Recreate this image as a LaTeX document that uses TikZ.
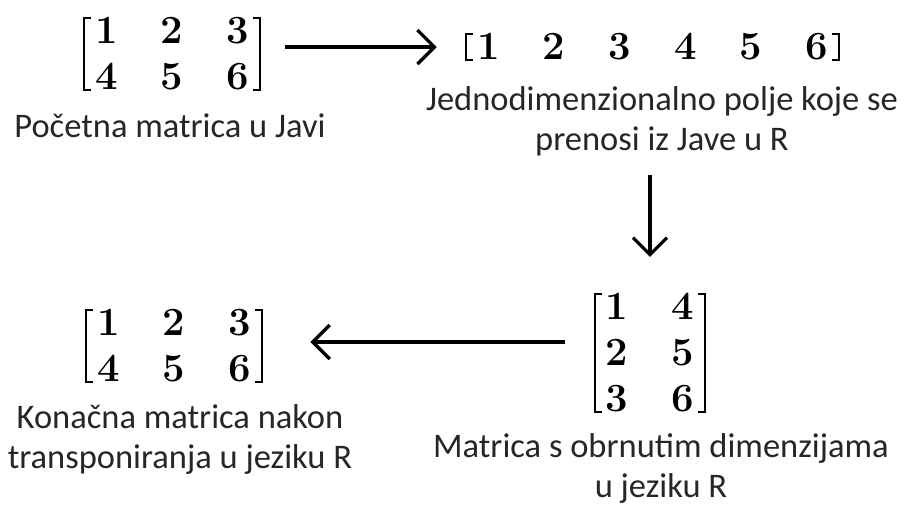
\documentclass[tikz,border=0pt]{standalone}
\usepackage{fontspec}
\setsansfont{Carlito}
\usetikzlibrary{matrix,arrows.meta}

% square brackets drawn on the left and right edges of a matrix node
\newcommand\matbrackets[1]{%
  \draw[brk] ([xshift=7pt]#1.north west) -- (#1.north west) -- (#1.south west) -- ([xshift=7pt]#1.south west);
  \draw[brk] ([xshift=-7pt]#1.north east) -- (#1.north east) -- (#1.south east) -- ([xshift=-7pt]#1.south east);
}

\tikzset{
  mat/.style={matrix of nodes, inner xsep=11pt, inner ysep=0pt,
    column sep=43pt, row sep=20.2pt,
    nodes={font=\fontsize{40}{40}\selectfont\bfseries, inner sep=0pt,
      text height=25.8pt, text depth=0pt, anchor=center}},
  % base anchor of a caption sits on the baseline of its last line
  caption/.style={font=\sffamily\fontsize{34.5}{40}\selectfont, text=black!85,
    align=center, inner sep=0pt, anchor=base},
  brk/.style={line width=2.4pt, line join=miter},
  arr/.style={line width=3.2pt, -{Straight Barb[length=17pt,width=34pt]}},
}

\begin{document}
\begin{tikzpicture}[x=1pt,y=-1pt]
  \useasboundingbox (0,0) rectangle (907,507);

  % initial matrix
  \matrix (m1) [mat] at (172,54) { 1 & 2 & 3 \\ 4 & 5 & 6 \\ };
  \matbrackets{m1}
  \node[caption] (c1) at (170,137) {Početna matrica u Javi};

  % flattened array
  \matrix (v) [mat] at (652.5,47) { 1 & 2 & 3 & 4 & 5 & 6 \\ };
  \matbrackets{v}
  \node[caption] (c2) at (662,150) {Jednodimenzionalno polje koje se\\prenosi iz Jave u R};

  % matrix with swapped dimensions
  \matrix (m3) [mat] at (650,353) { 1 & 4 \\ 2 & 5 \\ 3 & 6 \\ };
  \matbrackets{m3}
  \node[caption] (c3) at (661,497) {Matrica s obrnutim dimenzijama\\u jeziku R};

  % final matrix
  \matrix (m4) [mat] at (174,346) { 1 & 2 & 3 \\ 4 & 5 & 6 \\ };
  \matbrackets{m4}
  \node[caption] (c4) at (180,468) {Konačna matrica nakon\\transponiranja u jeziku R};

  % connectors
  \draw[arr, shorten <=25pt, shorten >=29.5pt] (v.west -| m1.east) -- (v.west);
  \draw[arr, shorten <=19pt, shorten >=37pt] (c2.south -| m3.north) -- (m3.north);
  \draw[arr, shorten <=29.5pt, shorten >=48.5pt] ([yshift=4pt]m4.east -| m3.west) -- ([yshift=4pt]m4.east);
\end{tikzpicture}
\end{document}
